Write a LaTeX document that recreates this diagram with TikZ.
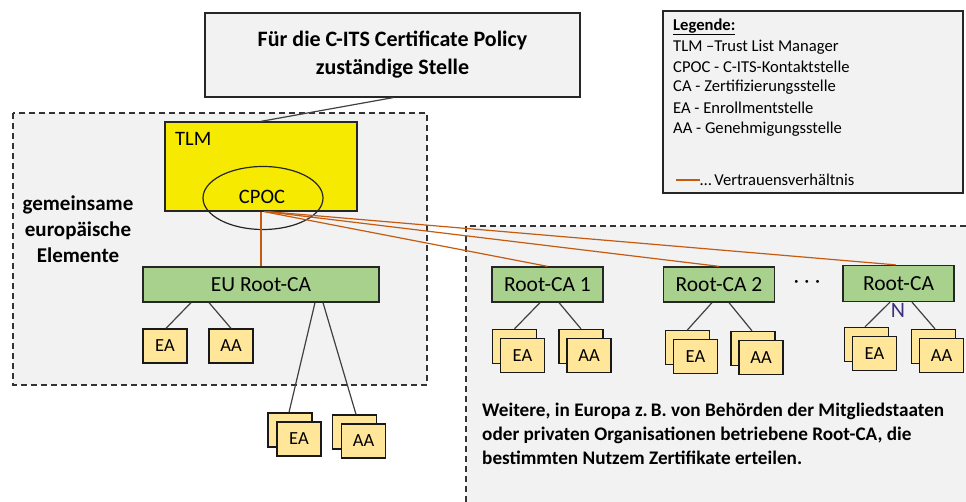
\documentclass[tikz,border=0pt]{standalone}
\usepackage{fontspec}
\setmainfont{Carlito}
\usetikzlibrary{shapes.geometric}
\definecolor{bgray}{HTML}{F2F2F2}
\definecolor{tyellow}{HTML}{F5EA00}
\definecolor{cgreen}{HTML}{A9D18E}
\definecolor{eayel}{HTML}{FFE699}
\definecolor{trust}{HTML}{C55A11}
\definecolor{nblue}{HTML}{3C2F80}
\definecolor{dline}{HTML}{404040}
\tikzset{
  region/.style={draw=black!80, line width=1.3pt, dash pattern=on 6pt off 4pt},
  greenbox/.style={draw=black!85, line width=1.3pt, fill=cgreen, inner sep=0pt, minimum width=111pt, minimum height=35pt, font=\fontsize{21.5}{25}\selectfont},
  smallbox/.style={draw=black!90, line width=1.3pt, fill=eayel, inner sep=0pt, minimum width=44pt, minimum height=34pt, font=\fontsize{18.5}{21}\selectfont},
  conn/.style={draw=dline, line width=1.2pt},
  trustline/.style={draw=trust, line width=1.2pt},
  legtext/.style={anchor=west, inner sep=0pt, font=\fontsize{16.6}{19}\selectfont}
}
\begin{document}
\begin{tikzpicture}[x=1pt,y=-1pt]
\useasboundingbox (0,0) rectangle (966,502);
% regions
\filldraw[region, fill=bgray] (13,113) rectangle (427,385);
\fill[bgray] (466,226) rectangle (966,502);
\draw[region] (466,502) -- (466,226) -- (966,226);

% top box
\node[draw=black!85, line width=1.3pt, fill=bgray, minimum width=375pt, minimum height=84pt, align=center, font=\bfseries\fontsize{22}{28}\selectfont] (top) at (392.5,55) {Für die C-ITS Certificate Policy\\zuständige Stelle};

% legend
\node[draw=black!85, line width=1.3pt, fill=bgray, minimum width=300pt, minimum height=182pt] (legend) at (813,102) {};
\node[legtext, font=\bfseries\fontsize{16.6}{19}\selectfont] (lg0) at (673,27) {\underline{Legende:}};
\node[legtext] (lg1) at (673,47) {TLM –Trust List Manager};
\node[legtext] (lg2) at (673,67) {CPOC - C-ITS-Kontaktstelle};
\node[legtext] (lg3) at (673,87) {CA - Zertifizierungsstelle};
\node[legtext] (lg4) at (673,108) {EA - Enrollmentstelle};
\node[legtext] (lg5) at (673,129) {AA - Genehmigungsstelle};
\coordinate (lgl) at (676,180);
\node[legtext] (lg6) at (700,180) {…\,Vertrauensverhältnis};
\draw[trustline] (lgl) -- (lg6.west);

% TLM
\node[draw=black!85, line width=1.3pt, fill=tyellow, minimum width=192pt, minimum height=89pt] (tlm) at (261,166.5) {};
\node[anchor=west, inner sep=0pt, font=\fontsize{20.5}{24}\selectfont] (tlml) at (175,139) {TLM};
\node[draw=black!85, line width=1.2pt, ellipse, minimum width=120pt, minimum height=63pt] (cpoc) at (263,198) {};
\node[inner sep=0pt, font=\fontsize{20.5}{24}\selectfont] (cpocl) at (262,197) {CPOC};

\node[align=center, font=\bfseries\fontsize{21}{26}\selectfont] (gem) at (78,229) {gemeinsame\\europäische\\Elemente};

% EU Root-CA
\node[greenbox, minimum width=236pt] (eu) at (261,284.5) {EU Root-CA};
\node[smallbox] (euea) at (165,346) {EA};
\node[smallbox] (euaa) at (231,346) {AA};
\node[smallbox] (xeab) at (290,430) {};
\node[smallbox] (xea) at (299,439) {EA};
\node[smallbox] (xaab) at (354.5,432) {};
\node[smallbox] (xaa) at (363.5,441) {AA};

% Root-CA 1
\node[greenbox] (r1) at (547.5,284.5) {Root-CA 1};
\node[smallbox] (r1eab) at (514.5,346.5) {};
\node[smallbox] (r1ea) at (522.5,355.5) {EA};
\node[smallbox] (r1aab) at (581,346.5) {};
\node[smallbox] (r1aa) at (589,355.5) {AA};

% Root-CA 2
\node[greenbox] (r2) at (719,284.5) {Root-CA 2};
\node[smallbox] (r2eab) at (687.5,347.5) {};
\node[smallbox] (r2ea) at (695.5,356.5) {EA};
\node[smallbox] (r2aab) at (753,348.5) {};
\node[smallbox] (r2aa) at (761,357.5) {AA};

\node[font=\fontsize{20}{24}\selectfont] (dots) at (807,284) {·\;·\;·};

% Root-CA N
\node[greenbox, minimum height=36pt] (rn) at (898.5,283.5) {Root-CA};
\node[smallbox] (rneab) at (866.5,344.5) {};
\node[smallbox] (rnea) at (874.5,353.5) {EA};
\node[smallbox] (rnaab) at (933.5,346.5) {};
\node[smallbox] (rnaa) at (941.5,355.5) {AA};

% connectors
\draw[conn] ([xshift=0.5pt]top.south) -- (tlm.north);
\draw[conn] ([xshift=-70pt]eu.south) -- ([xshift=1pt]euea.north);
\draw[conn] ([xshift=-52pt]eu.south) -- (euaa.north);
\draw[conn] ([xshift=54pt]eu.south) -- ([xshift=-1pt]xeab.north);
\draw[conn] ([xshift=62pt]eu.south) -- ([xshift=1.5pt]xaab.north);
\draw[conn] ([xshift=-7.5pt]r1.south) -- (r1eab.north);
\draw[conn] ([xshift=11.5pt]r1.south) -- (r1aab.north);
\draw[conn] ([xshift=-7pt]r2.south) -- (r2eab.north);
\draw[conn] ([xshift=10pt]r2.south) -- ([xshift=-1pt]r2aab.north);
\draw[conn] ([xshift=-8.5pt]rn.south) -- ([xshift=-1.5pt]rneab.north);
\draw[conn] ([xshift=13.5pt]rn.south) -- ([xshift=1.5pt]rnaab.north);

\node[text=nblue, inner sep=0pt, font=\fontsize{22}{24}\selectfont] (nlab) at (898,310) {N};

% trust lines
\draw[trustline] (tlm.south) -- (eu.north);
\draw[trustline] ([xshift=3pt]tlm.south) -- (r1.north);
\draw[trustline] ([xshift=5pt]tlm.south) -- (r2.north);
\draw[trustline] ([xshift=7pt]tlm.south) -- ([xshift=-3pt]rn.north);

% bottom text
\node[anchor=north west, align=left, inner sep=0pt, font=\bfseries\fontsize{19.2}{24}\selectfont] (info) at (482,403) {Weitere, in Europa z.\,B. von Behörden der Mitgliedstaaten\\oder privaten Organisationen betriebene Root-CA, die\\bestimmten Nutzem Zertifikate erteilen.};
\end{tikzpicture}
\end{document}
